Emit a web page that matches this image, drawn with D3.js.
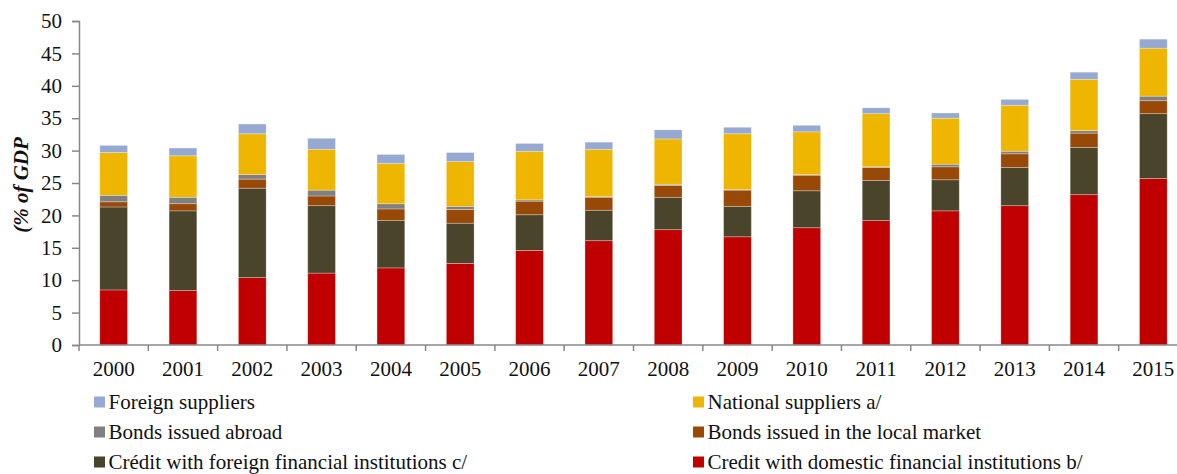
<!DOCTYPE html>
<html>
<head>
<meta charset="utf-8">
<script src="https://cdn.jsdelivr.net/npm/d3@7"></script>
<style>
  body { margin: 0; background: #fff; }
  svg { display: block; }
</style>
</head>
<body>
<div id="chart"></div>
<script>
var years = ["2000", "2001", "2002", "2003", "2004", "2005", "2006", "2007",
  "2008", "2009", "2010", "2011", "2012", "2013", "2014", "2015"];

// series, bottom of stack first (% of GDP)
var creditDomestic = [8.5, 8.4, 10.4, 11.1, 11.9, 12.6, 14.6, 16.1, 17.8, 16.7, 18.1, 19.2, 20.7, 21.5, 23.2, 25.7];
var creditForeign  = [12.8, 12.3, 13.8, 10.4, 7.3, 6.2, 5.5, 4.7, 5.0, 4.7, 5.7, 6.2, 4.8, 5.9, 7.3, 10.0];
var bondsLocal     = [0.8, 1.1, 1.4, 1.5, 1.8, 2.1, 2.1, 2.0, 1.8, 2.5, 2.4, 2.0, 2.0, 2.1, 2.2, 2.0];
var bondsAbroad    = [1.0, 1.0, 0.7, 0.9, 0.8, 0.5, 0.2, 0.1, 0.2, 0.1, 0.1, 0.1, 0.4, 0.4, 0.4, 0.7];
var nationalSupp   = [6.6, 6.4, 6.3, 6.3, 6.2, 6.9, 7.5, 7.3, 7.0, 8.6, 6.6, 8.2, 7.1, 7.1, 7.9, 7.4];
var foreignSupp    = [1.1, 1.2, 1.5, 1.7, 1.4, 1.4, 1.2, 1.1, 1.4, 1.0, 1.0, 0.9, 0.8, 0.9, 1.1, 1.4];

var yTicks = [0, 5, 10, 15, 20, 25, 30, 35, 40, 45, 50];

var keys = ["dom", "forInst", "bLocal", "bAbroad", "natSupp", "forSupp"];
var names = {
  dom: "Credit with domestic financial institutions b/",
  forInst: "Crédit with foreign financial institutions c/",
  bLocal: "Bonds issued in the local market",
  bAbroad: "Bonds issued abroad",
  natSupp: "National suppliers a/",
  forSupp: "Foreign suppliers"
};
var colors = {
  dom: "#c00000",
  forInst: "#4a452a",
  bLocal: "#984807",
  bAbroad: "#808080",
  natSupp: "#eeb600",
  forSupp: "#95a9d3"
};

var table = years.map(function(y, i) {
  return {
    year: y,
    dom: creditDomestic[i],
    forInst: creditForeign[i],
    bLocal: bondsLocal[i],
    bAbroad: bondsAbroad[i],
    natSupp: nationalSupp[i],
    forSupp: foreignSupp[i]
  };
});

var W = 1177, H = 474;
var margin = { top: 21, left: 79, bottom: 128 };
var plotRight = 1188;

var svg = d3.select("#chart").append("svg")
  .attr("width", W)
  .attr("height", H);

var x = d3.scaleBand()
  .domain(years)
  .range([margin.left, plotRight])
  .paddingInner(0.6)
  .paddingOuter(0.3);

var y = d3.scaleLinear()
  .domain([0, 50])
  .range([H - margin.bottom - 1, margin.top]);

var series = d3.stack().keys(keys)(table);

var font = "'Liberation Serif', 'Times New Roman', serif";

svg.append("g")
  .selectAll("g")
  .data(series)
  .enter().append("g")
  .attr("fill", function(d) { return colors[d.key]; })
  .selectAll("rect")
  .data(function(d) { return d; })
  .enter().append("rect")
  .attr("x", function(d) { return x(d.data.year); })
  .attr("y", function(d) { return y(d[1]); })
  .attr("width", x.bandwidth())
  .attr("height", function(d) { return y(d[0]) - y(d[1]); })
  .attr("stroke", "#ffffff")
  .attr("stroke-opacity", 0.35)
  .attr("stroke-width", 0.8);

// y axis
var yAxis = svg.append("g")
  .attr("transform", "translate(" + margin.left + ",0)")
  .call(d3.axisLeft(y).tickValues(yTicks).tickSize(7).tickPadding(10));
yAxis.selectAll("text")
  .style("font-family", font)
  .style("font-size", "21px")
  .attr("fill", "#111");

// x axis with ticks at category boundaries
var step = x.step();
var bounds = d3.range(years.length + 1).map(function(i) { return margin.left + i * step; });
var xAxis = svg.append("g")
  .attr("transform", "translate(0," + y(0) + ")");
xAxis.append("line")
  .attr("x1", margin.left).attr("x2", plotRight)
  .attr("stroke", "#888").attr("stroke-width", 1.5);
xAxis.selectAll(".tk")
  .data(bounds)
  .enter().append("line")
  .attr("class", "tk")
  .attr("x1", function(d) { return d; })
  .attr("x2", function(d) { return d; })
  .attr("y1", 0).attr("y2", 6)
  .attr("stroke", "#888").attr("stroke-width", 1.5);
xAxis.selectAll(".lbl")
  .data(years)
  .enter().append("text")
  .attr("class", "lbl")
  .attr("x", function(d) { return x(d) + x.bandwidth() / 2; })
  .attr("y", 31)
  .attr("text-anchor", "middle")
  .style("font-family", font)
  .style("font-size", "21px")
  .attr("fill", "#111")
  .text(function(d) { return d; });

yAxis.select(".domain").attr("stroke", "#888").attr("stroke-width", 1.5);
yAxis.selectAll(".tick line").attr("stroke", "#888").attr("stroke-width", 1.5);

// y title
svg.append("text")
  .attr("transform", "translate(28,185) rotate(-90)")
  .attr("text-anchor", "middle")
  .style("font-family", font)
  .style("font-size", "21px")
  .style("font-weight", "bold")
  .style("font-style", "italic")
  .attr("fill", "#111")
  .text("(% of GDP");

// legend, two columns
var legendRows = [
  ["forSupp", "natSupp"],
  ["bAbroad", "bLocal"],
  ["forInst", "dom"]
];
var colX = [94, 693];
var box = 11;
var legend = svg.append("g");
legendRows.forEach(function(row, r) {
  row.forEach(function(k, c) {
    var g = legend.append("g")
      .attr("transform", "translate(" + colX[c] + "," + (402 + r * 30) + ")");
    g.append("rect")
      .attr("x", 0).attr("y", -box / 2)
      .attr("width", box).attr("height", box)
      .attr("fill", colors[k]);
    g.append("text")
      .attr("x", box + 3.5).attr("y", 7)
      .style("font-family", font)
      .style("font-size", "21px")
      .attr("fill", "#111")
      .text(names[k]);
  });
});
</script>
</body>
</html>
